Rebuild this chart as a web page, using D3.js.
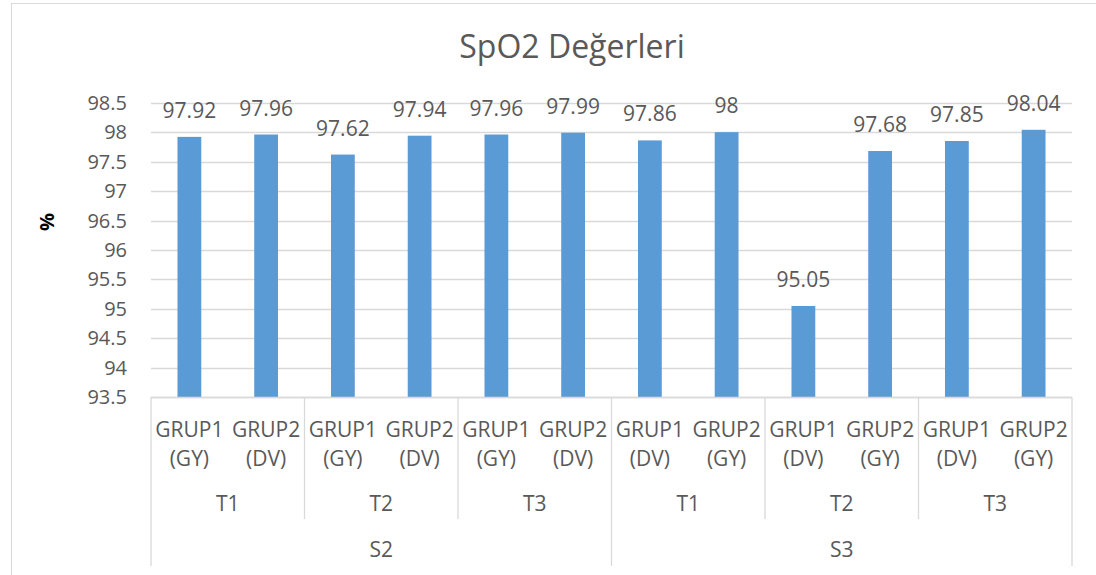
<!DOCTYPE html>
<html>
<head>
<meta charset="utf-8">
<script src="https://cdn.jsdelivr.net/npm/d3@7"></script>
<style>
  body { margin: 0; background: white; }
  text { font-family: "Open Sans", sans-serif; fill: #595959; }
</style>
</head>
<body>
<script>
var w = 1096;
var h = 575;

// data
var grupLine1 = ["GRUP1","GRUP2","GRUP1","GRUP2","GRUP1","GRUP2","GRUP1","GRUP2","GRUP1","GRUP2","GRUP1","GRUP2"];
var grupLine2 = ["(GY)","(DV)","(GY)","(DV)","(GY)","(DV)","(DV)","(GY)","(DV)","(GY)","(DV)","(GY)"];
var tLabels = ["T1","T2","T3","T1","T2","T3"];
var sLabels = ["S2","S3"];
var values = [97.92, 97.96, 97.62, 97.94, 97.96, 97.99, 97.86, 98, 95.05, 97.68, 97.85, 98.04];
var yTicks = [93.5, 94, 94.5, 95, 95.5, 96, 96.5, 97, 97.5, 98, 98.5];

// plot area (note: "top" is a reserved window global)
var pLeft = 151, pRight = 1072, pTop = 102.7, pBottom = 397.3;

var svg = d3.select("body").append("svg")
  .attr("width", w)
  .attr("height", h)

// chart border (cut off at right / bottom in the picture)
svg.append("rect")
  .attr("x", 11.5).attr("y", 3.5)
  .attr("width", 1200).attr("height", 700)
  .attr("fill", "white")
  .attr("stroke", "#d9d9d9")

var idx = d3.range(values.length);
var xScale = d3.scaleBand()
  .domain(idx)
  .range([pLeft, pRight])
  .paddingInner(0.69)
  .paddingOuter(0.345)
var step = xScale.step();
var yScale = d3.scaleLinear()
  .domain([93.5, 98.5])
  .range([pBottom, pTop])

// gridlines
svg.selectAll(".grid")
  .data(yTicks)
  .join("line")
  .attr("class", "grid")
  .attr("x1", pLeft).attr("x2", pRight)
  .attr("y1", function(d){ return Math.round(yScale(d)) + 0.5 })
  .attr("y2", function(d){ return Math.round(yScale(d)) + 0.5 })
  .attr("stroke", "#d9d9d9")
  .attr("stroke-width", 1.3)

// y tick labels
svg.selectAll(".ytick")
  .data(yTicks)
  .join("text")
  .attr("class", "ytick")
  .attr("x", 127)
  .attr("y", function(d){ return yScale(d) })
  .attr("dy", "0.35em")
  .attr("text-anchor", "end")
  .style("font-size", "20px")
  .text(function(d){ return d })

// y axis title
svg.append("text")
  .attr("transform", "translate(47,222) rotate(-90)")
  .attr("text-anchor", "middle")
  .attr("dy", "0.35em")
  .style("font-size", "20px")
  .style("font-weight", "bold")
  .style("fill", "#000")
  .text("%")

// bars
svg.selectAll(".bar")
  .data(values)
  .join("rect")
  .attr("class", "bar")
  .attr("x", function(d,i){ return xScale(i) })
  .attr("width", xScale.bandwidth())
  .attr("y", function(d){ return yScale(d) })
  .attr("height", function(d){ return pBottom - yScale(d) })
  .attr("fill", "#5b9bd5")

// data labels
svg.selectAll(".lbl")
  .data(values)
  .join("text")
  .attr("class", "lbl")
  .attr("x", function(d,i){ return xScale(i) + xScale.bandwidth()/2 })
  .attr("y", function(d){ return yScale(d) - 19 })
  .attr("text-anchor", "middle")
  .style("font-size", "21px")
  .text(function(d){ return d })

// category axis lines
svg.append("line")
  .attr("x1", pLeft).attr("x2", pRight)
  .attr("y1", Math.round(pBottom) + 0.5).attr("y2", Math.round(pBottom) + 0.5)
  .attr("stroke", "#d9d9d9")
  .attr("stroke-width", 1.3)

var tEdges = d3.range(0, values.length + 1, 2);
svg.selectAll(".tdiv")
  .data(tEdges)
  .join("line")
  .attr("class", "tdiv")
  .attr("x1", function(d){ return pLeft + d*step })
  .attr("x2", function(d){ return pLeft + d*step })
  .attr("y1", pBottom)
  .attr("y2", function(d){ return d % 6 == 0 ? 566 : 519 })
  .attr("stroke", "#d9d9d9")
  .attr("stroke-width", 1.3)

// group labels
svg.selectAll(".g1")
  .data(grupLine1)
  .join("text")
  .attr("class", "g1")
  .attr("x", function(d,i){ return xScale(i) + xScale.bandwidth()/2 })
  .attr("y", 437)
  .attr("text-anchor", "middle")
  .style("font-size", "21px")
  .text(function(d){ return d })

svg.selectAll(".g2")
  .data(grupLine2)
  .join("text")
  .attr("class", "g2")
  .attr("x", function(d,i){ return xScale(i) + xScale.bandwidth()/2 })
  .attr("y", 466)
  .attr("text-anchor", "middle")
  .style("font-size", "21px")
  .text(function(d){ return d })

svg.selectAll(".tl")
  .data(tLabels)
  .join("text")
  .attr("class", "tl")
  .attr("x", function(d,i){ return pLeft + (i*2 + 1)*step })
  .attr("y", 511)
  .attr("text-anchor", "middle")
  .style("font-size", "21px")
  .text(function(d){ return d })

svg.selectAll(".sl")
  .data(sLabels)
  .join("text")
  .attr("class", "sl")
  .attr("x", function(d,i){ return pLeft + (i*6 + 3)*step })
  .attr("y", 557)
  .attr("text-anchor", "middle")
  .style("font-size", "21px")
  .text(function(d){ return d })

// title
svg.append("text")
  .attr("x", 572)
  .attr("y", 58)
  .attr("text-anchor", "middle")
  .style("font-size", "32px")
  .text("SpO2 Değerleri")
</script>
</body>
</html>
